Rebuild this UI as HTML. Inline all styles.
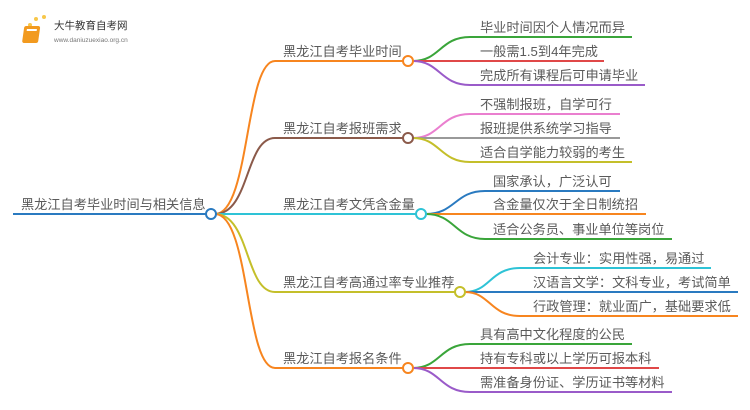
<!DOCTYPE html>
<html><head><meta charset="utf-8"><style>
body{margin:0;background:#fff;}
svg{display:block;font-family:"Liberation Sans","Noto Sans CJK SC",sans-serif;}
text{fill:#5a5a5a;font-size:13.2px;}
</style></head><body>
<svg width="750" height="410" viewBox="0 0 750 410" xmlns="http://www.w3.org/2000/svg">
<g>
<circle cx="30" cy="25" r="2" fill="#f7c74a"/><circle cx="36" cy="19" r="2" fill="#f7c74a"/><circle cx="44" cy="17" r="2" fill="#f7c74a"/><circle cx="25" cy="33" r="1.5" fill="#f7c74a"/>
<rect x="28" y="26" width="16" height="17" rx="2" fill="#f29a1f" transform="skewX(-8)"/>
<rect x="31" y="29" width="10" height="2" fill="#fff" transform="skewX(-8)"/>
<text x="54" y="29" style="font-size:10.5px;fill:#333">大牛教育自考网</text>
<text x="54" y="42" style="font-size:6.5px;fill:#777">www.daniuzuexiao.org.cn</text>
</g>
<g fill="none" stroke-width="2">
<line x1="13" y1="214" x2="206" y2="214" stroke="#2a7ac0"/>
<path d="M215 214 C250 214 245 61 275 61 L403 61" stroke="#f7851f"/>
<path d="M215 214 C250 214 245 138 275 138 L403 138" stroke="#8b5a4a"/>
<path d="M215 214 L416 214" stroke="#2ec3d6"/>
<path d="M215 214 C250 214 245 292 275 292 L455 292" stroke="#c4bf2a"/>
<path d="M215 214 C250 214 245 368 275 368 L403 368" stroke="#f7851f"/>

<path d="M413 61 C440 61 440 37 470 37 L632 37" stroke="#3aa53a"/>
<path d="M413 61 L604 61" stroke="#e04848"/>
<path d="M413 61 C440 61 440 85 470 85 L645 85" stroke="#9a5bc9"/>

<path d="M413 138 C440 138 440 114 470 114 L620 114" stroke="#ea7fcf"/>
<path d="M413 138 L620 138" stroke="#999"/>
<path d="M413 138 C440 138 440 162 470 162 L632 162" stroke="#c4bf2a"/>

<path d="M426 214 C455 214 455 191 485 191 L620 191" stroke="#2a7ac0"/>
<path d="M426 214 L646 214" stroke="#f7851f"/>
<path d="M426 214 C455 214 455 239 485 239 L672 239" stroke="#3aa53a"/>

<path d="M465 292 C490 292 490 268 520 268 L711 268" stroke="#2ec3d6"/>
<path d="M465 292 L738 292" stroke="#2a7ac0"/>
<path d="M465 292 C490 292 490 316 520 316 L738 316" stroke="#f7851f"/>

<path d="M413 368 C440 368 440 344 470 344 L632 344" stroke="#3aa53a"/>
<path d="M413 368 L659 368" stroke="#e04848"/>
<path d="M413 368 C440 368 440 392 470 392 L672 392" stroke="#9a5bc9"/>
</g>
<g fill="#fff" stroke-width="2">
<circle cx="211" cy="214" r="5" stroke="#2a7ac0"/>
<circle cx="408" cy="61" r="5" stroke="#f7851f"/>
<circle cx="408" cy="138" r="5" stroke="#8b5a4a"/>
<circle cx="421" cy="214" r="5" stroke="#2ec3d6"/>
<circle cx="460" cy="292" r="5" stroke="#c4bf2a"/>
<circle cx="408" cy="368" r="5" stroke="#f7851f"/>
</g>
<text x="21" y="209">黑龙江自考毕业时间与相关信息</text>
<text x="283" y="56">黑龙江自考毕业时间</text>
<text x="283" y="133">黑龙江自考报班需求</text>
<text x="283" y="209">黑龙江自考文凭含金量</text>
<text x="283" y="287">黑龙江自考高通过率专业推荐</text>
<text x="283" y="363">黑龙江自考报名条件</text>

<text x="480" y="32">毕业时间因个人情况而异</text>
<text x="480" y="56">一般需1.5到4年完成</text>
<text x="480" y="80">完成所有课程后可申请毕业</text>
<text x="480" y="109">不强制报班，自学可行</text>
<text x="480" y="133">报班提供系统学习指导</text>
<text x="480" y="157">适合自学能力较弱的考生</text>
<text x="493" y="186">国家承认，广泛认可</text>
<text x="493" y="209">含金量仅次于全日制统招</text>
<text x="493" y="234">适合公务员、事业单位等岗位</text>
<text x="533" y="263">会计专业：实用性强，易通过</text>
<text x="533" y="287">汉语言文学：文科专业，考试简单</text>
<text x="533" y="311">行政管理：就业面广，基础要求低</text>
<text x="480" y="339">具有高中文化程度的公民</text>
<text x="480" y="363">持有专科或以上学历可报本科</text>
<text x="480" y="387">需准备身份证、学历证书等材料</text>
</svg>
</body></html>
